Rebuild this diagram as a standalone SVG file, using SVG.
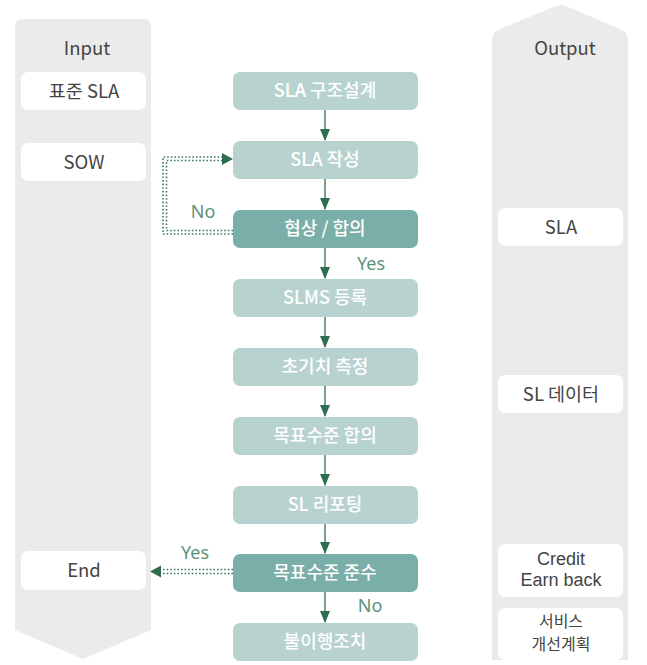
<svg xmlns="http://www.w3.org/2000/svg" width="647" height="665" viewBox="0 0 647 665">
<defs>
<style>
.col{fill:#ebebeb}
.wb{fill:#ffffff}
.lb{fill:#b8d3cf}
.db{fill:#7aaea8}
.t{font-family:"Noto Sans CJK KR","Noto Sans",sans-serif;font-size:18.5px;text-anchor:middle}
.st{fill:#444444}
.bt{fill:#ffffff;font-weight:500;font-size:18px}
.lat{font-family:"Liberation Sans","Noto Sans",sans-serif;font-size:18px;fill:#444444;text-anchor:middle}
.sm{font-size:16px}
.lab{font-family:"Noto Sans","Noto Sans CJK KR",sans-serif;font-size:18px;fill:#5e917a;text-anchor:middle}
.ar{stroke:#2e6e50;stroke-width:1.3;fill:none}
.dot{stroke:#3d7a5c;stroke-width:1.6;fill:none;stroke-dasharray:1.6 2}
</style>
<marker id="ah" markerWidth="12" markerHeight="10" refX="11" refY="5" orient="auto" markerUnits="userSpaceOnUse">
<path d="M0,0 L12,5 L0,10 Z" fill="#2e6e50"/>
</marker>
</defs>
<g id="input-col">
<path class="col" d="M23,19 H143 Q151,19 151,27 V630 L83,659 L15,630 V27 Q15,19 23,19 Z"/>
<text class="t st" x="87" y="55">Input</text>
</g>
<g id="output-col">
<path class="col" d="M492,40 Q492,32 500,29 L556,6 Q561,4 566,6 L620,29 Q628,32 628,40 V660 H492 Z"/>
<text class="t st" x="565" y="55">Output</text>
</g>
<g id="in-sla"><rect class="wb" x="21" y="72" width="125" height="38" rx="7"/><text class="t st" x="84" y="98">표준 SLA</text></g>
<g id="in-sow"><rect class="wb" x="21" y="143" width="125" height="38" rx="7"/><text class="t st" x="84" y="169">SOW</text></g>
<g id="in-end"><rect class="wb" x="21" y="551" width="125" height="39" rx="7"/><text class="t st" x="84" y="577">End</text></g>
<g id="out-sla"><rect class="wb" x="498" y="208" width="125" height="38" rx="7"/><text class="t st" x="561" y="234">SLA</text></g>
<g id="out-sl"><rect class="wb" x="498" y="375" width="125" height="38" rx="7"/><text class="t st" x="561" y="401">SL 데이터</text></g>
<g id="out-credit"><rect class="wb" x="498" y="544" width="125" height="53" rx="7"/><text class="lat" x="561" y="565">Credit</text><text class="lat" x="561" y="586">Earn back</text></g>
<g id="out-plan"><rect class="wb" x="498" y="608" width="125" height="52" rx="7"/><text class="t st sm" x="561" y="627">서비스</text><text class="t st sm" x="561" y="650">개선계획</text></g>
<g id="n1"><rect class="lb" x="233" y="72" width="185" height="38" rx="7"/><text class="t bt" x="325" y="97">SLA 구조설계</text></g>
<g id="n2"><rect class="lb" x="233" y="141" width="185" height="38" rx="7"/><text class="t bt" x="325" y="166">SLA 작성</text></g>
<g id="n3"><rect class="db" x="233" y="210" width="185" height="38" rx="7"/><text class="t bt" x="325" y="235">협상 / 합의</text></g>
<g id="n4"><rect class="lb" x="233" y="279" width="185" height="38" rx="7"/><text class="t bt" x="325" y="304">SLMS 등록</text></g>
<g id="n5"><rect class="lb" x="233" y="348" width="185" height="38" rx="7"/><text class="t bt" x="325" y="373">초기치 측정</text></g>
<g id="n6"><rect class="lb" x="233" y="417" width="185" height="38" rx="7"/><text class="t bt" x="325" y="442">목표수준 합의</text></g>
<g id="n7"><rect class="lb" x="233" y="486" width="185" height="38" rx="7"/><text class="t bt" x="325" y="511">SL 리포팅</text></g>
<g id="n8"><rect class="db" x="233" y="554" width="185" height="38" rx="7"/><text class="t bt" x="325" y="579">목표수준 준수</text></g>
<g id="n9"><rect class="lb" x="233" y="623" width="185" height="38" rx="7"/><text class="t bt" x="325" y="648">불이행조치</text></g>
<g id="connectors">
<line class="ar" x1="325" y1="110" x2="325" y2="140" marker-end="url(#ah)"/>
<line class="ar" x1="325" y1="179" x2="325" y2="209" marker-end="url(#ah)"/>
<line class="ar" x1="325" y1="248" x2="325" y2="278" marker-end="url(#ah)"/>
<line class="ar" x1="325" y1="317" x2="325" y2="347" marker-end="url(#ah)"/>
<line class="ar" x1="325" y1="386" x2="325" y2="416" marker-end="url(#ah)"/>
<line class="ar" x1="325" y1="455" x2="325" y2="485" marker-end="url(#ah)"/>
<line class="ar" x1="325" y1="524" x2="325" y2="553" marker-end="url(#ah)"/>
<line class="ar" x1="325" y1="592" x2="325" y2="622" marker-end="url(#ah)"/>
<path class="dot" d="M233,234 H163 V157 H224"/>
<path class="dot" d="M233,230.5 H166.5 V160.5 H224"/>
<path d="M222,153 L233,159 L222,165 Z" fill="#2e6e50"/>
<path class="dot" d="M233,569.5 H160"/>
<path class="dot" d="M233,573.5 H160"/>
<path d="M161,565.5 L150,571.5 L161,577.5 Z" fill="#2e6e50"/>
<text class="lab" x="203" y="218">No</text>
<text class="lab" x="371" y="270">Yes</text>
<text class="lab" x="195" y="559">Yes</text>
<text class="lab" x="370" y="612">No</text>
</g>
</svg>
